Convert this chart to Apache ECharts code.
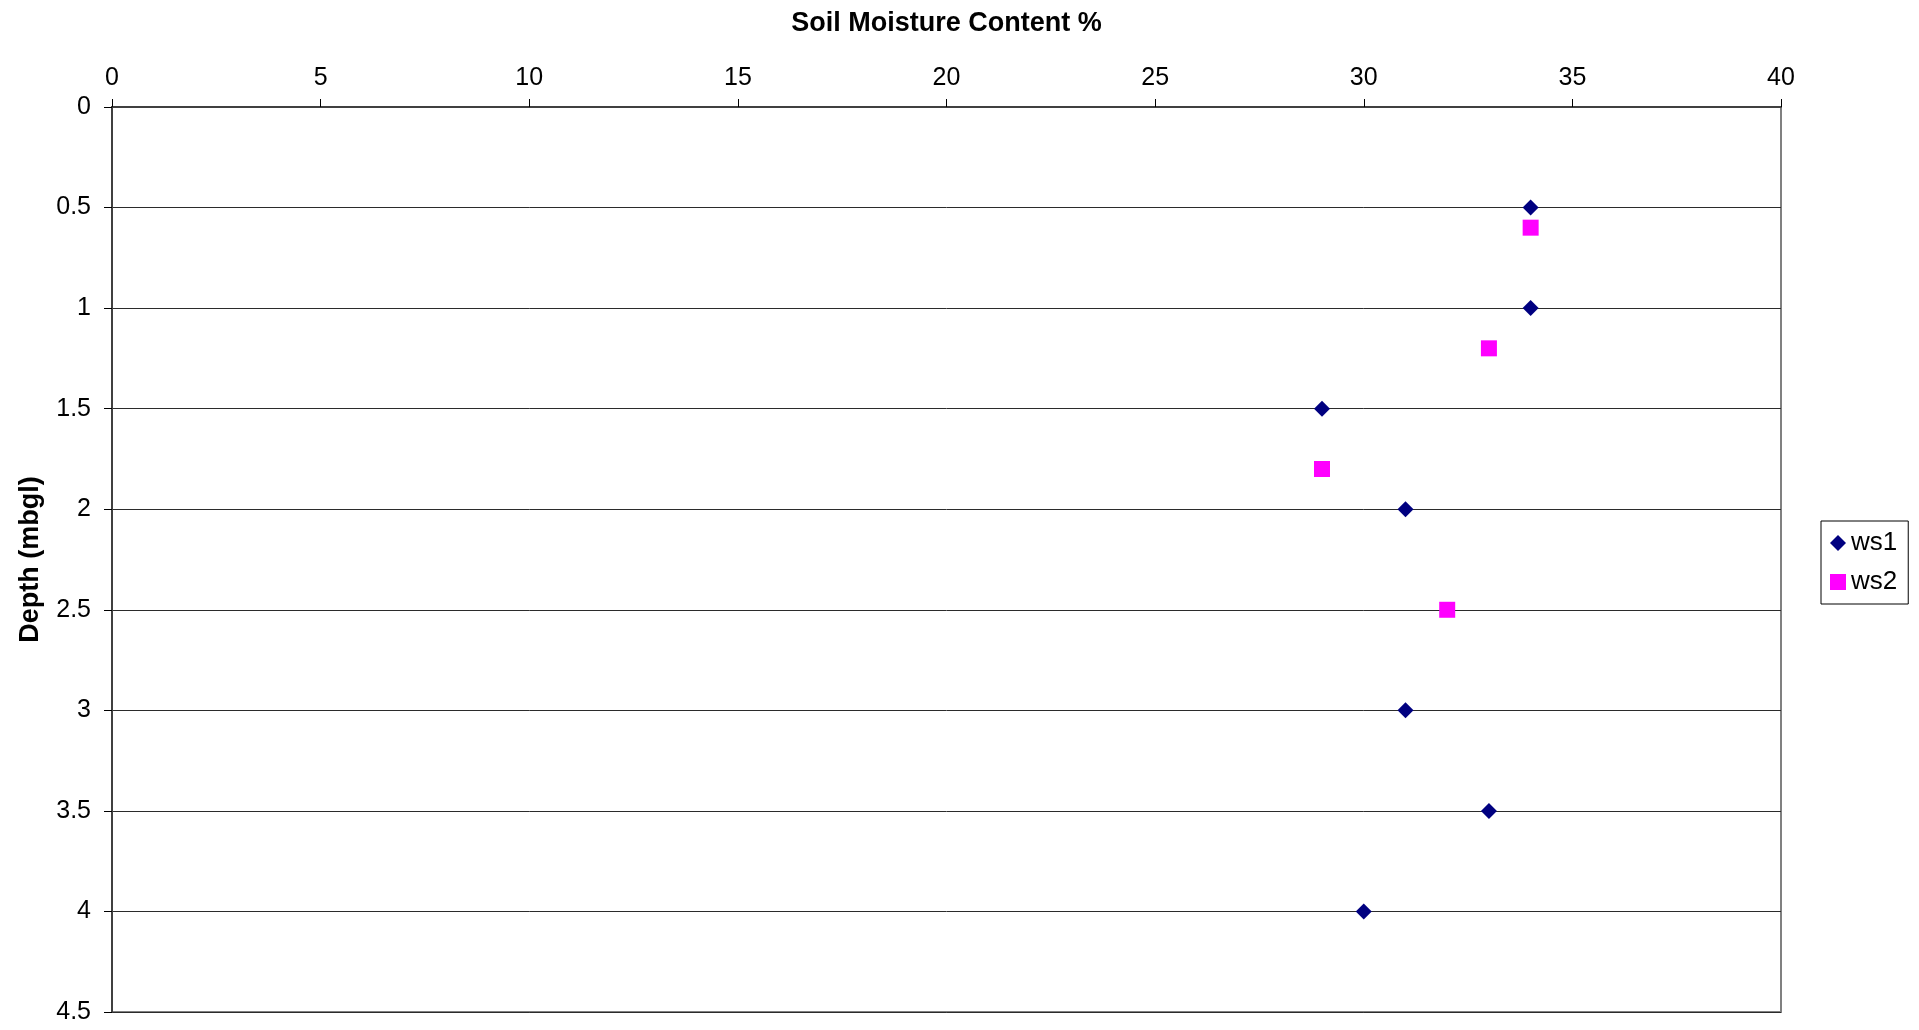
<!DOCTYPE html>
<html>
<head>
<meta charset="utf-8">
<title>Soil Moisture Content</title>
<script src="https://cdn.jsdelivr.net/npm/echarts@6/dist/echarts.min.js"></script>
<style>
  html, body { margin: 0; padding: 0; background: #fff; }
  #chart { width: 1919px; height: 1030px; }
</style>
</head>
<body>
<div id="chart"></div>
<script>
// Moisture (%) against depth below ground level (m) for two sample holes
const ws1Moisture = [34, 34, 29, 31, 31, 33, 30];
const ws1Depth    = [0.5, 1.0, 1.5, 2.0, 3.0, 3.5, 4.0];
const ws2Moisture = [34, 33, 29, 32];
const ws2Depth    = [0.6, 1.2, 1.8, 2.5];

const seriesNames = ['ws1', 'ws2'];
const xAxisTitle = 'Soil Moisture Content %';
const yAxisTitle = 'Depth (mbgl)';

const pairs = (xs, ys) => xs.map((x, i) => [x, ys[i]]);

const FONT = '"Liberation Sans", Arial, sans-serif';

const chart = echarts.init(document.getElementById('chart'), null, { renderer: 'canvas' });

chart.setOption({
  animation: false,
  backgroundColor: '#ffffff',
  textStyle: { fontFamily: FONT, color: '#000' },
  grid: {
    left: 112, top: 107, width: 1669, height: 905,
    show: true, borderColor: '#808080', borderWidth: 2, backgroundColor: 'transparent'
  },
  legend: {
    orient: 'vertical',
    left: 1821, top: 521,
    padding: [9, 11, 9, 9],
    itemGap: 13,
    itemWidth: 16, itemHeight: 16,
    borderColor: '#000', borderWidth: 1,
    textStyle: { fontFamily: FONT, fontSize: 26, color: '#000', lineHeight: 24 },
    data: [
      { name: seriesNames[0], icon: 'diamond' },
      { name: seriesNames[1], icon: 'rect' }
    ]
  },
  xAxis: {
    type: 'value',
    position: 'top',
    min: 0, max: 40, interval: 5,
    name: xAxisTitle,
    nameLocation: 'middle',
    nameGap: 70,
    nameTextStyle: { fontFamily: FONT, fontSize: 27, fontWeight: 'bold', color: '#000' },
    axisLine: { show: true, onZero: false, lineStyle: { color: '#404040', width: 2 } },
    axisTick: { show: true, length: 8, lineStyle: { color: '#000', width: 1 } },
    axisLabel: { fontFamily: FONT, fontSize: 25, color: '#000', margin: 16 },
    splitLine: { show: false }
  },
  yAxis: {
    type: 'value',
    inverse: true,
    min: 0, max: 4.5, interval: 0.5,
    name: yAxisTitle,
    nameLocation: 'middle',
    nameGap: 68,
    nameRotate: 90,
    nameTextStyle: { fontFamily: FONT, fontSize: 27, fontWeight: 'bold', color: '#000' },
    axisLine: { show: true, onZero: false, lineStyle: { color: '#404040', width: 2 } },
    axisTick: { show: true, length: 8, lineStyle: { color: '#000', width: 1 } },
    axisLabel: { fontFamily: FONT, fontSize: 25, color: '#000', margin: 21 },
    splitLine: { show: true, lineStyle: { color: '#2b2b2b', width: 1 } }
  },
  series: [
    {
      name: seriesNames[0],
      type: 'scatter',
      symbol: 'diamond',
      symbolSize: 16,
      itemStyle: { color: '#000080', opacity: 1 },
      data: pairs(ws1Moisture, ws1Depth),
      z: 3
    },
    {
      name: seriesNames[1],
      type: 'scatter',
      symbol: 'rect',
      symbolSize: 16,
      itemStyle: { color: '#ff00ff', opacity: 1 },
      data: pairs(ws2Moisture, ws2Depth),
      z: 2
    }
  ]
});
</script>
</body>
</html>
